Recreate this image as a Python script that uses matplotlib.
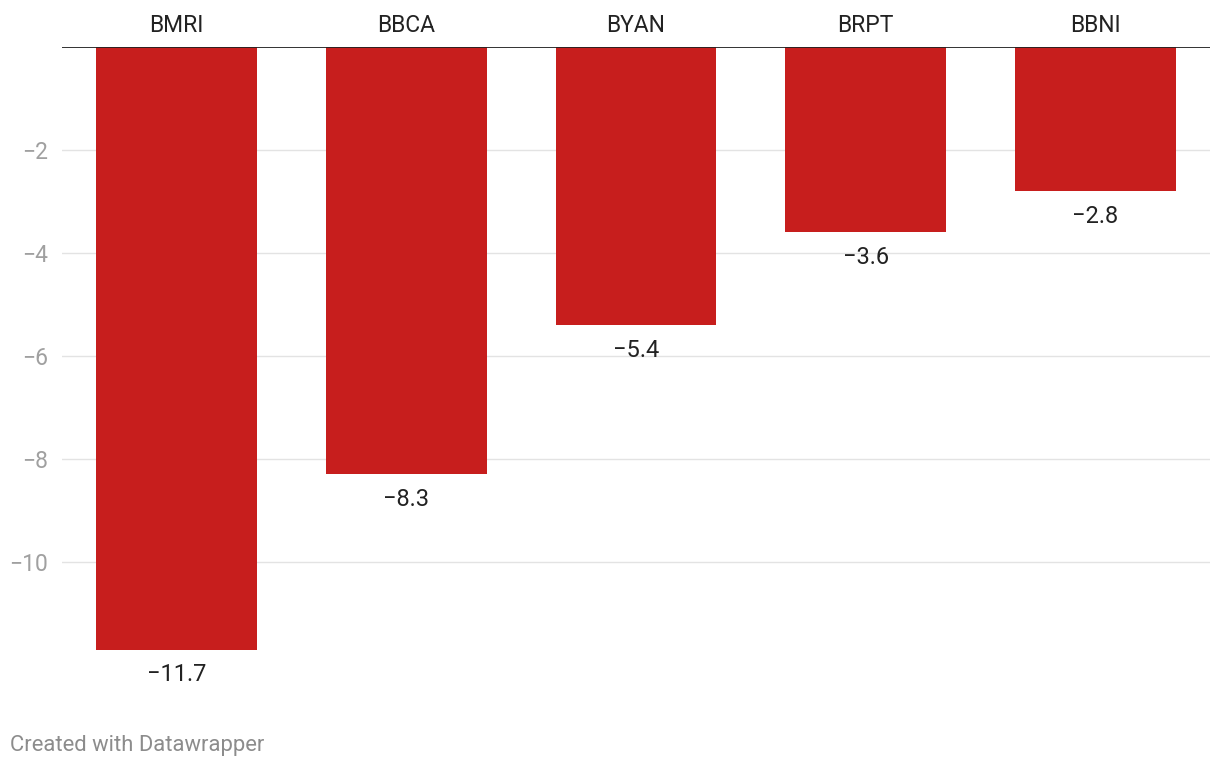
import matplotlib
matplotlib.use('Agg')
import matplotlib.pyplot as plt

plt.rcParams['font.family'] = ['Roboto', 'DejaVu Sans']

# data
tickers = ['BMRI', 'BBCA', 'BYAN', 'BRPT', 'BBNI']
changes = [-11.7, -8.3, -5.4, -3.6, -2.8]
yticks = [-2, -4, -6, -8, -10]

fig = plt.figure(figsize=(12.2, 7.68), dpi=100)
ax = fig.add_axes([62/1220, 1 - 665/768, 1148/1220, 618/768])

x = list(range(len(tickers)))
ax.bar(x, changes, width=0.7, color='#c71e1d', zorder=2)

ax.set_xlim(-0.5, len(tickers) - 0.5)
ax.set_ylim(-12, 0)

# gridlines
for t in yticks:
    ax.axhline(t, color='#e3e3e3', linewidth=1, zorder=1)
ax.axhline(0, color='#222222', linewidth=1.3, zorder=3)

ax.set_yticks(yticks)
ax.set_yticklabels(['\u2212' + str(abs(t)) for t in yticks])
ax.tick_params(axis='y', length=0, labelsize=16.5, labelcolor='#a0a0a0', pad=10)
for lab in ax.get_yticklabels():
    lab.set_horizontalalignment('right')

ax.xaxis.tick_top()
ax.set_xticks(x)
ax.set_xticklabels(tickers)
ax.tick_params(axis='x', length=0, labelsize=16.5, labelcolor='#222222', pad=7)

for s in ax.spines.values():
    s.set_visible(False)

for i, v in enumerate(changes):
    ax.annotate('\u2212' + f'{abs(v):.1f}', (i, v), xytext=(0, -10),
                textcoords='offset points', ha='center', va='top',
                fontsize=17, color='#222222')

fig.text(10/1220, 1 - 745/768, 'Created with Datawrapper', fontsize=15.8,
         color='#8c8c8c', va='center', ha='left')

fig.savefig('out.png', dpi=100)
